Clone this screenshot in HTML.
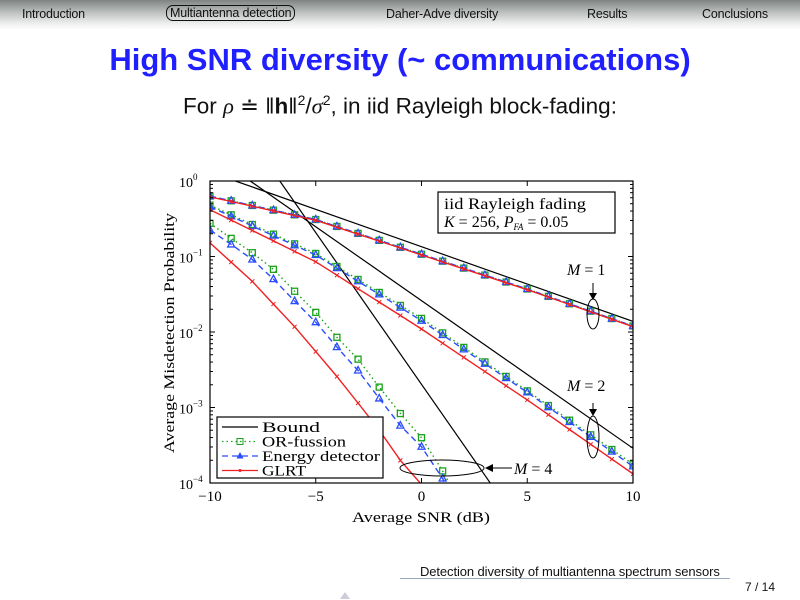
<!DOCTYPE html>
<html><head><meta charset="utf-8"><style>
body{margin:0;width:800px;height:600px;background:#fff;position:relative;overflow:hidden;font-family:"Liberation Sans",sans-serif}
.hdr{position:absolute;left:0;top:0;width:800px;height:30px;background:linear-gradient(#7f8483,#c2c5c4 45%,#f0f0f0 80%,#fff)}
.nav{position:absolute;top:7px;font-size:12.5px;color:#111;letter-spacing:-0.2px}
</style></head><body>
<div class="hdr"></div>
<div class="nav" style="left:22px">Introduction</div>
<div class="nav" style="left:166px;top:5px;border:1.3px solid #111;border-radius:7px;padding:0 3px">Multiantenna detection</div>
<div class="nav" style="left:386px">Daher-Adve diversity</div>
<div class="nav" style="left:587px">Results</div>
<div class="nav" style="left:702px">Conclusions</div>
<div style="position:absolute;left:0;width:800px;top:42px;text-align:center;font-size:31px;font-weight:bold;color:#1f1fff">High SNR diversity (~ communications)</div>
<div style="position:absolute;left:0;width:800px;top:92px;text-align:center;font-size:22.5px;color:#111">For <i style="font-family:'Liberation Serif',serif">ρ</i> ≐ ‖<b>h</b>‖<sup style="font-size:14px">2</sup>/<i style="font-family:'Liberation Serif',serif">σ</i><sup style="font-size:14px">2</sup>, in iid Rayleigh block-fading:</div>
<svg id="s" width="800" height="600" style="position:absolute;left:0;top:0" font-family="Liberation Serif, serif"></svg>
<div style="position:absolute;left:420px;top:564px;font-size:13px;color:#111;white-space:nowrap;letter-spacing:-0.1px">Detection diversity of multiantenna spectrum sensors</div>
<div style="position:absolute;left:400px;top:578px;width:330px;height:1px;background:#9ab"></div>
<div style="position:absolute;left:745px;top:580px;font-size:12px;color:#111">7 / 14</div>
<div style="position:absolute;left:340px;top:592px;width:0;height:0;border-left:5px solid transparent;border-right:5px solid transparent;border-bottom:7px solid #ccd"></div>
<script>
var s=document.getElementById('s'),h='';
function X(x){return 210+(x+10)*21.15}function Y(l){return 181-l*75.5}
function pl(pts,c,w,d){var p=pts.map(function(q){return X(q[0]).toFixed(1)+','+Y(q[1]).toFixed(1)}).join(' ');h+='<polyline points="'+p+'" fill="none" stroke="'+c+'" stroke-width="'+w+'"'+(d?' stroke-dasharray="'+d+'"':'')+'/>';}
function mk(pts,t,c){pts.forEach(function(q){var x=X(q[0]),y=Y(q[1]);if(y>483)return;
if(t=='s')h+='<rect x="'+(x-3)+'" y="'+(y-3)+'" width="6" height="6" fill="none" stroke="'+c+'" stroke-width="1.3"/>';
else if(t=='t')h+='<polygon points="'+x+','+(y-4)+' '+(x-3.5)+','+(y+2.5)+' '+(x+3.5)+','+(y+2.5)+'" fill="none" stroke="'+c+'" stroke-width="1.3"/>';
else h+='<path d="M'+(x-2)+' '+(y-2)+'L'+(x+2)+' '+(y+2)+'M'+(x+2)+' '+(y-2)+'L'+(x-2)+' '+(y+2)+'" stroke="'+c+'"/>';});}
function interp(a,step){var r=[];for(var x=-10;x<=10.001;x+=step){for(var i=0;i<a.length-1;i++)if(x>=a[i][0]-1e-9&&x<=a[i+1][0]+1e-9){var t=(x-a[i][0])/(a[i+1][0]-a[i][0]);r.push([x,a[i][1]+t*(a[i+1][1]-a[i][1])]);break;}}return r;}
h+='<defs><clipPath id="c"><rect x="210" y="181" width="423" height="302"/></clipPath></defs><g clip-path="url(#c)">';
pl([[-8.8,0],[10,-1.86]],'#000',1.2);pl([[-8.1,0],[10,-3.54]],'#000',1.2);pl([[-6.7,0],[3.3,-4.02]],'#000',1.2);
var m1r=interp([[-10,-0.21],[-5,-0.52],[0,-0.98],[5,-1.44],[10,-1.93]],1);
var m1o=m1r.map(function(q){return[q[0],q[1]+0.01]});
var m2r=interp([[-10,-0.38],[-5,-1.07],[0,-1.96],[5,-2.9],[10,-3.88]],1);
var m2o=interp([[-10,-0.32],[-5,-0.96],[0,-1.82],[5,-2.78],[10,-3.75]],1);
var m2e=interp([[-10,-0.34],[-5,-0.98],[0,-1.85],[5,-2.8],[10,-3.78]],1);
var m4r=interp([[-10,-0.82],[-8,-1.33],[-6,-1.93],[-4,-2.59],[-3,-2.94],[-2,-3.3],[-1,-3.7],[0,-4.02],[1,-4.4]],1);
var m4o=[[-10,-0.56],[-9,-0.76],[-8,-0.95],[-7,-1.17],[-6,-1.46],[-5,-1.74],[-4,-2.07],[-3,-2.36],[-2,-2.73],[-1,-3.08],[0,-3.4],[1,-3.84],[1.5,-4.1]];
var m4e=[[-10,-0.65],[-9,-0.84],[-8,-1.04],[-7,-1.3],[-6,-1.59],[-5,-1.87],[-4,-2.2],[-3,-2.51],[-2,-2.88],[-1,-3.24],[0,-3.52],[1,-3.94],[1.3,-4.1]];
[[m1o,m1o,m1r],[m2o,m2e,m2r],[m4o,m4e,m4r]].forEach(function(g){
pl(g[0],'#1aa31a',1.4,'1.5,3');mk(g[0],'s','#1aa31a');
pl(g[1],'#2a4cff',1.4,'6,4');mk(g[1],'t','#2a4cff');
pl(g[2],'#f02020',1.4);mk(g[2],'x','#f02020');});
h+='</g>';
h+='<rect x="210" y="181" width="423" height="302" fill="none" stroke="#000" stroke-width="1.2"/>';
for(var d=0;d<=4;d++){var y=Y(-d);h+='<line x1="210" x2="215" y1="'+y+'" y2="'+y+'" stroke="#000"/><line x1="628" x2="633" y1="'+y+'" y2="'+y+'" stroke="#000"/>';
h+='<text x="179" y="'+(y+6)+'" font-size="14">10<tspan dy="-7" font-size="9">'+(d?'−'+d:'0')+'</tspan></text>';
if(d<4)for(var k=2;k<10;k++){var yy=Y(-d-1+Math.log10(k));h+='<line x1="210" x2="213" y1="'+yy+'" y2="'+yy+'" stroke="#000"/><line x1="630" x2="633" y1="'+yy+'" y2="'+yy+'" stroke="#000"/>';}}
[-10,-5,0,5,10].forEach(function(v){var x=X(v);h+='<line x1="'+x+'" x2="'+x+'" y1="483" y2="478" stroke="#000"/><line x1="'+x+'" x2="'+x+'" y1="181" y2="186" stroke="#000"/><text x="'+x+'" y="501" font-size="15" text-anchor="middle">'+(v<0?'−'+(-v):v)+'</text>';});
h+='<text x="352" y="522" font-size="15" textLength="138" lengthAdjust="spacingAndGlyphs">Average SNR (dB)</text>';
h+='<text transform="translate(174,453) rotate(-90)" font-size="15" textLength="240" lengthAdjust="spacingAndGlyphs">Average Misdetection Probability</text>';
h+='<rect x="438" y="192" width="177" height="41" fill="#fff" stroke="#000" stroke-width="1.2"/><text x="444" y="209" font-size="16" textLength="142" lengthAdjust="spacingAndGlyphs">iid Rayleigh fading</text><text x="444" y="227" font-size="16"><tspan font-style="italic">K</tspan> = 256, <tspan font-style="italic">P<tspan font-size="9" dy="3">FA</tspan></tspan><tspan dy="-3"> = 0.05</tspan></text>';
h+='<rect x="217" y="417" width="166" height="61" fill="#fff" stroke="#000" stroke-width="1.2"/>';
var L=[['#000','',null,'Bound',58],['#1aa31a','1.5,3','s','OR-fussion',84],['#2a4cff','6,4','t','Energy detector',118],['#f02020','','x','GLRT',44]];
L.forEach(function(l,i){var y=427+i*14.5;h+='<line x1="222" x2="258" y1="'+y+'" y2="'+y+'" stroke="'+l[0]+'" stroke-width="1.3"'+(l[1]?' stroke-dasharray="'+l[1]+'"':'')+'/>';
if(l[2]){if(l[2]=='s')h+='<rect x="237" y="'+(y-3)+'" width="6" height="6" fill="none" stroke="'+l[0]+'"/>';else if(l[2]=='t')h+='<polygon points="240,'+(y-4)+' 236.5,'+(y+2.5)+' 243.5,'+(y+2.5)+'" fill="'+l[0]+'"/>';else h+='<circle cx="240" cy="'+y+'" r="1.5" fill="'+l[0]+'"/>';}
h+='<text x="262" y="'+(y+5)+'" font-size="15" textLength="'+l[4]+'" lengthAdjust="spacingAndGlyphs">'+l[3]+'</text>';});
h+='<ellipse cx="593" cy="314" rx="6" ry="15" fill="none" stroke="#000"/><ellipse cx="593" cy="437" rx="6" ry="21" fill="none" stroke="#000"/><ellipse cx="442" cy="468" rx="42" ry="8" fill="none" stroke="#000"/>';
h+='<line x1="593" y1="283" x2="593" y2="296" stroke="#000"/><polygon points="589,293 597,293 593,300" fill="#000"/>';
h+='<line x1="593" y1="403" x2="593" y2="412" stroke="#000"/><polygon points="589,409 597,409 593,416" fill="#000"/>';
h+='<line x1="492" y1="468" x2="512" y2="468" stroke="#000"/><polygon points="485,468 493,464 493,472" fill="#000"/>';
h+='<text x="567" y="275" font-size="16"><tspan font-style="italic">M</tspan> = 1</text><text x="567" y="391" font-size="16"><tspan font-style="italic">M</tspan> = 2</text><text x="514" y="474" font-size="16"><tspan font-style="italic">M</tspan> = 4</text>';
s.innerHTML=h;
</script>
</body></html>
